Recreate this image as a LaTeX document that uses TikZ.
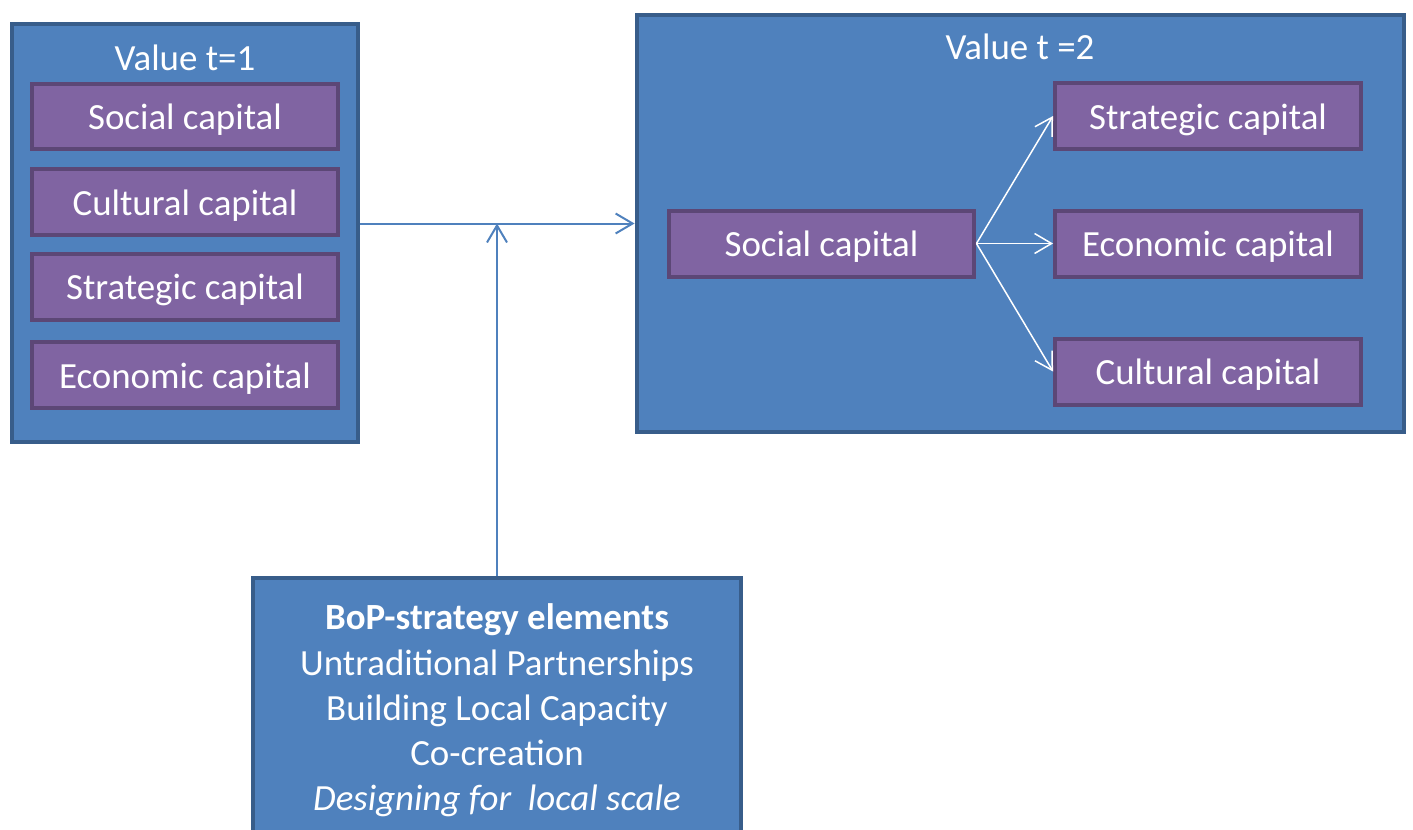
\documentclass[tikz,border=0pt]{standalone}
\usepackage{fontspec}
\setmainfont{Carlito}
\usetikzlibrary{arrows.meta}
\definecolor{boxblue}{HTML}{4F81BD}
\definecolor{boxblueline}{HTML}{385D8A}
\definecolor{capviolet}{HTML}{8064A2}
\definecolor{capvioletline}{HTML}{5C4776}
\begin{document}
\begin{tikzpicture}[x=0.02cm, y=-0.02cm,
    valuebox/.style={draw=boxblueline, fill=boxblue, line width=0.08cm},
    capbox/.style={draw=capvioletline, fill=capviolet, line width=0.08cm,
      minimum width=6.12cm, minimum height=1.32cm, inner sep=0pt,
      text height=19pt, text depth=4pt,
      text=white, font=\fontsize{21}{25}\selectfont},
    title/.style={text=white, inner sep=0pt, font=\fontsize{21}{25}\selectfont},
    flow/.style={draw=boxblue, line width=0.04cm,
      -{Straight Barb[length=0.34cm,width=0.4cm]}},
    spread/.style={draw=white, line width=0.03cm,
      -{Straight Barb[length=0.34cm,width=0.4cm]}}]
  \useasboundingbox (0,0) rectangle (1413,829);
  \clip (0,0) rectangle (1413,829);

  % value at t=1
  \node[valuebox, minimum width=6.94cm, minimum height=8.38cm] (before) at (185,233) {};
  \node[title] (beforetitle) at (185,58) {Value t=1};
  \node[capbox] (social1) at (185,116.5) {Social capital};
  \node[capbox] (cultural1) at (185,202) {Cultural capital};
  \node[capbox] (strategic1) at (185,286.5) {Strategic capital};
  \node[capbox] (economic1) at (185,375) {Economic capital};

  % value at t=2
  \node[valuebox, minimum width=15.36cm, minimum height=8.36cm] (after) at (1020.5,223.5) {};
  \node[title] (aftertitle) at (1020,47) {Value t =2};
  \node[capbox] (social2) at (821.5,243.5) {Social capital};
  \node[capbox] (strategic2) at (1208,116) {Strategic capital};
  \node[capbox] (economic2) at (1208,243.5) {Economic capital};
  \node[capbox] (cultural2) at (1208,371.5) {Cultural capital};

  \draw[spread] (social2.east) -- (strategic2.west);
  \draw[spread] (social2.east) -- (economic2.west);
  \draw[spread] (social2.east) -- (cultural2.west);

  % strategy elements
  \node[valuebox, anchor=north, minimum width=9.78cm, minimum height=5.3cm,
    inner sep=0pt, align=center, text=white,
    font=\fontsize{21}{25.7}\selectfont] (bop) at (497,576)
    {\textbf{BoP-strategy elements}\\
     Untraditional Partnerships\\
     Building Local Capacity\\
     Co-creation\\
     \textit{Designing for\ \ local scale}};

  \draw[flow] (before.east |- after.west) -- (after.west);
  \draw[flow] (bop.north) -- (bop.north |- after.west);
\end{tikzpicture}
\end{document}
